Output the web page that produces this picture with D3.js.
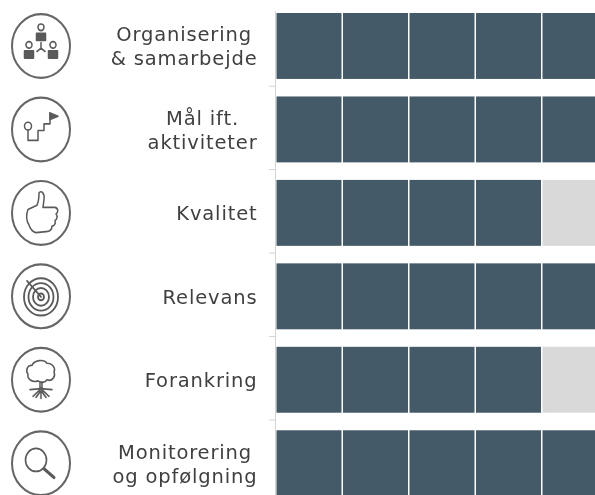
<!DOCTYPE html>
<html>
<head>
<meta charset="utf-8">
<title>Vurdering</title>
<style>
html, body { margin: 0; padding: 0; background: #fff; overflow: hidden; }
svg { display: block; font-family: "DejaVu Sans", sans-serif; }
.label { font-size: 19.5px; letter-spacing: 0.85px; fill: #3f3f3f; }
.axis path, .axis line { stroke: #d4d4d4; fill: none; }
.icon { fill: none; stroke: #5a5a5a; stroke-width: 1.5; stroke-linecap: round; stroke-linejoin: round; }
.icon .ring { stroke: #666; stroke-width: 2; }
.icon .solid { fill: #5a5a5a; }
</style>
</head>
<body>
<div id="chart"></div>
<script src="https://d3js.org/d3.v7.min.js"></script>
<script>
var categories = ["Organisering & samarbejde", "Mål ift. aktiviteter", "Kvalitet", "Relevans", "Forankring", "Monitorering og opfølgning"];
var labelLines = [["Organisering", "& samarbejde"], ["Mål ift.", "aktiviteter"], ["Kvalitet"], ["Relevans"], ["Forankring"], ["Monitorering", "og opfølgning"]];
var scores = [5, 5, 4, 5, 4, 5];
var steps = [1, 2, 3, 4, 5];

var width = 595, height = 495;
var plotLeft = 276, plotRight = 608.5, plotTop = 4.25, rowStep = 83.45;

var x = d3.scaleLinear().domain([0, 5]).range([plotLeft, plotRight]);
var y = d3.scaleBand().domain(categories)
  .range([plotTop, plotTop + rowStep * categories.length])
  .paddingInner(0.21).paddingOuter(0.105);

var svg = d3.select("#chart").append("svg")
  .attr("width", width).attr("height", height);

var defs = svg.append("defs");
defs.append("filter").attr("id", "soft")
  .attr("filterUnits", "userSpaceOnUse")
  .attr("x", 0).attr("y", 0).attr("width", width + 20).attr("height", height + 20)
  .append("feGaussianBlur").attr("stdDeviation", 0.55);

// axis line with ticks between the rows
var axisG = svg.append("g").attr("class", "axis").attr("filter", "url(#soft)");
axisG.append("path").attr("d", d3.line()([[plotLeft - 0.5, y(categories[0]) - 2], [plotLeft - 0.5, height]]));
axisG.selectAll("line").data(categories.slice(1)).enter().append("line")
  .attr("x1", plotLeft - 7).attr("x2", plotLeft - 0.5)
  .attr("y1", function(d) { return y(d) - (y.step() - y.bandwidth()) / 2 - 1.5; })
  .attr("y2", function(d) { return y(d) - (y.step() - y.bandwidth()) / 2 - 1.5; });

// one row of five cells per category
var rows = svg.append("g").attr("filter", "url(#soft)")
  .selectAll("g").data(categories).enter().append("g")
  .attr("transform", function(d) { return "translate(0," + y(d) + ")"; });

rows.selectAll("rect")
  .data(function(d, i) { return steps.map(function(s) { return { step: s, on: s <= scores[i] }; }); })
  .enter().append("rect")
  .attr("x", function(d) { return x(d.step - 1) + 0.5; })
  .attr("width", function(d) { return x(d.step) - x(d.step - 1) - 1.5; })
  .attr("height", y.bandwidth())
  .attr("fill", function(d) { return d.on ? "#445a68" : "#d9d9d9"; });

// row labels: lines centred on each other, block right aligned
var labelRight = 257.5, lineHeight = 24;
var labels = svg.append("g").attr("filter", "url(#soft)");
categories.forEach(function(c, i) {
  var lines = labelLines[i];
  var cy = y(c) + y.bandwidth() / 2;
  var g = labels.append("g");
  var texts = g.selectAll("text").data(lines).enter().append("text")
    .attr("class", "label").attr("text-anchor", "middle")
    .attr("y", function(d, k) { return cy + 7.5 + (k - (lines.length - 1) / 2) * lineHeight; })
    .text(function(d) { return d; });
  var widest = d3.max(texts.nodes(), function(n) { return n.getComputedTextLength(); });
  texts.attr("x", labelRight - widest / 2);
});

// icons, drawn around the centre of a ring that is a little taller than wide
var iconX = 41, iconR = 29, iconStretch = 1.1;
var iconY = categories.map(function(c) { return y(c) + y.bandwidth() / 2; });
var iconG = svg.append("g").attr("filter", "url(#soft)");

function person(g, px, py) {
  g.append("circle").attr("cx", px).attr("cy", py - 5).attr("r", 3);
  g.append("rect").attr("class", "solid").attr("x", px - 4.5).attr("y", py + 0.5).attr("width", 9).attr("height", 6.5);
}

var drawIcon = [
  function(g) {
    person(g, 0, -12); person(g, -12, 4); person(g, 12, 4);
    g.append("path").attr("d", "M0,-3V2M0,2L-4,5M0,2L4,5");
  },
  function(g) {
    g.append("circle").attr("cx", -13).attr("cy", -3).attr("r", 3.5);
    g.append("path").attr("d", "M-13,1V10H-3V1H3V-5H9V-15");
    g.append("path").attr("class", "solid").attr("d", "M9,-15L17,-12L9,-9Z");
  },
  function(g) {
    g.append("path").attr("d", "M-13,-3L-4,-7C-2,-11 -2,-15 -2,-18C0,-21 4,-18 3,-12L2,-5L14,-5C18,-4 17,0 15,1C17,3 16,6 14,7C15,10 13,12 11,12C11,16 8,17 5,17L-5,18C-9,17 -11,14 -12,11C-15,7 -15,1 -13,-3Z");
  },
  function(g) {
    [17, 12.5, 8, 3].forEach(function(r) { g.append("circle").attr("r", r).attr("cy", 0.5).attr("stroke-width", 1.8); });
    g.append("path").attr("d", "M0,0.5L-14,-14").attr("stroke-width", 1.8);
  },
  function(g) {
    g.append("path").attr("d", "M-3,1C-9,3 -14,-1 -13,-5C-16,-9 -13,-14 -9,-13C-7,-18 3,-19 6,-15C11,-15 15,-11 13,-7C15,-3 11,2 6,0C4,3 0,3 -3,1Z");
    g.append("path").attr("d", "M-1,2V9L-8,15M1,2V9L8,15M0,8L-11,9M0,8L11,9M0,10V17M-1,11L-5,16M1,11L5,16");
  },
  function(g) {
    g.append("circle").attr("cx", -5).attr("cy", -3).attr("r", 10.5).attr("stroke-width", 1.6);
    g.append("path").attr("d", "M3,5L13,13").attr("stroke-width", 3);
  }
];

categories.forEach(function(c, i) {
  var g = iconG.append("g").attr("class", "icon")
    .attr("transform", "translate(" + iconX + "," + iconY[i] + ") scale(1," + iconStretch + ")");
  g.append("circle").attr("class", "ring").attr("r", iconR);
  drawIcon[i](g);
});
</script>
</body>
</html>
